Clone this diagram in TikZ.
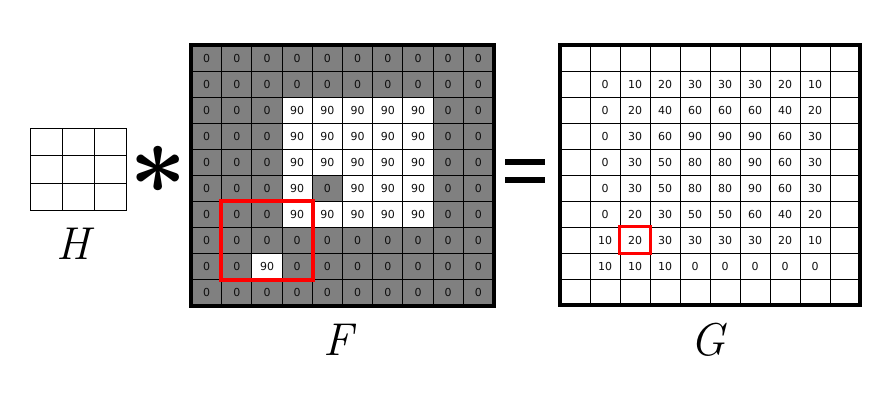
\documentclass[tikz,border=0pt]{standalone}
\usepackage{fontspec}
\newfontfamily\cellfont{DejaVu Sans}
\definecolor{cellgray}{RGB}{128,128,128}
\definecolor{boxred}{RGB}{255,0,0}
\definecolor{celltext}{RGB}{15,15,15}
\begin{document}
\begin{tikzpicture}[x=1pt,y=-1pt,
  fcell/.style={draw=black, line width=0.95pt, minimum width=30.2pt, minimum height=26.1pt,
    inner sep=0pt, text=celltext, font={\cellfont\fontsize{11}{13}\selectfont}},
  gcell/.style={draw=black, line width=0.95pt, minimum width=30pt, minimum height=26pt,
    inner sep=0pt, fill=white, text=celltext, font={\cellfont\fontsize{11}{13}\selectfont}},
  hcell/.style={draw=black, line width=0.95pt, minimum width=32pt, minimum height=27.5pt,
    inner sep=0pt, fill=white},
  outerframe/.style={draw=black, line width=4pt},
  redbox/.style={draw=boxred, line width=3.8pt},
  biglabel/.style={font={\fontsize{46}{50}\selectfont\itshape}, inner sep=0pt, anchor=base}
]
\useasboundingbox (0,0) rectangle (882,415);

% H kernel
\foreach \i in {0,1,2}{
  \foreach \j in {0,1,2}{
    \node[hcell] (h-\i-\j) at ({30+32*(\j+0.5)},{128+27.5*(\i+0.5)}) {};
  }
}
\node[biglabel] (hlabel) at (73,259) {H};

% asterisk
\node[inner sep=0pt] (ast) at (158,170) {\scalebox{10}{\boldmath$\ast$}};

% F image
\foreach \rowvals [count=\i from 0] in {
 {0,0,0,0,0,0,0,0,0,0},
 {0,0,0,0,0,0,0,0,0,0},
 {0,0,0,90,90,90,90,90,0,0},
 {0,0,0,90,90,90,90,90,0,0},
 {0,0,0,90,90,90,90,90,0,0},
 {0,0,0,90,0,90,90,90,0,0},
 {0,0,0,90,90,90,90,90,0,0},
 {0,0,0,0,0,0,0,0,0,0},
 {0,0,90,0,0,0,0,0,0,0},
 {0,0,0,0,0,0,0,0,0,0}}{
  \foreach \v [count=\j from 0] in \rowvals {
    \ifnum\v=0 \def\cellfill{cellgray}\else\def\cellfill{white}\fi
    \node[fcell, fill=\cellfill] (f-\i-\j) at ({191.5+30.2*(\j+0.5)},{45+26.1*(\i+0.5)}) {\v};
  }
}
\draw[outerframe] (f-0-0.north west) rectangle (f-9-9.south east);
\draw[redbox] (f-6-1.north west) rectangle (f-8-3.south east);
\node[biglabel] (flabel) at (338,355) {F};

% equals sign
\fill[black] (505,159) rectangle (545,165);
\fill[black] (505,177) rectangle (545,183);

% G image
\foreach \rowvals [count=\i from 0] in {
 {{},{},{},{},{},{},{},{},{},{}},
 {{},0,10,20,30,30,30,20,10,{}},
 {{},0,20,40,60,60,60,40,20,{}},
 {{},0,30,60,90,90,90,60,30,{}},
 {{},0,30,50,80,80,90,60,30,{}},
 {{},0,30,50,80,80,90,60,30,{}},
 {{},0,20,30,50,50,60,40,20,{}},
 {{},10,20,30,30,30,30,20,10,{}},
 {{},10,10,10,0,0,0,0,0,{}},
 {{},{},{},{},{},{},{},{},{},{}}}{
  \foreach \v [count=\j from 0] in \rowvals {
    \node[gcell] (g-\i-\j) at ({560+30*(\j+0.5)},{45+26*(\i+0.5)}) {\v};
  }
}
\draw[outerframe] (g-0-0.north west) rectangle (g-9-9.south east);
\draw[redbox] (g-7-2.north west) rectangle (g-7-2.south east);
\node[biglabel] (glabel) at (708,355) {G};
\end{tikzpicture}
\end{document}
